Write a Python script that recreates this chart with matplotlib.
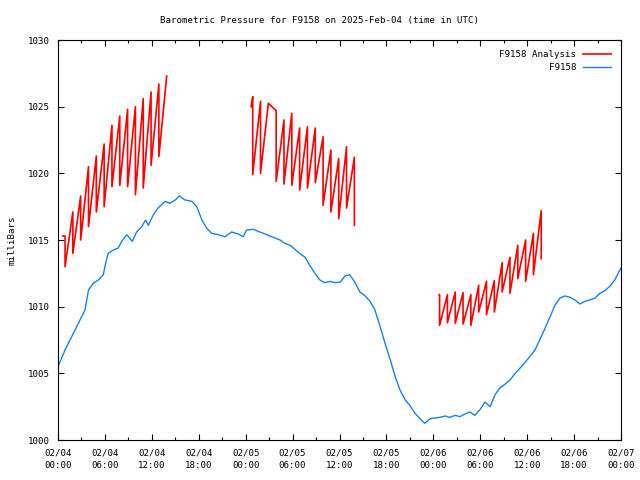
import numpy as np
import matplotlib
matplotlib.use("Agg")
import matplotlib.pyplot as plt

# time axis: hours since 2025-02-04 00:00 UTC
tick_hours = [0, 6, 12, 18, 24, 30, 36, 42, 48, 54, 60, 66, 72]
tick_labels = ["02/04\n00:00", "02/04\n06:00", "02/04\n12:00", "02/04\n18:00",
               "02/05\n00:00", "02/05\n06:00", "02/05\n12:00", "02/05\n18:00",
               "02/06\n00:00", "02/06\n06:00", "02/06\n12:00", "02/06\n18:00",
               "02/07\n00:00"]

# observed pressure (F9158)
obs_hours = [0.0, 0.9, 1.75, 2.6, 3.45, 3.9, 4.5, 5.15, 5.8, 6.0, 6.4, 7.1, 7.7, 8.15,
             8.8, 9.5, 10.05, 10.7, 11.2, 11.55, 12.2, 12.8, 13.7, 14.3, 15.0, 15.5,
             16.25, 17.1, 17.75, 18.4, 19.0, 19.65, 20.5, 21.35, 22.2, 23.05, 23.7,
             24.1, 25.0, 25.8, 26.5, 27.1, 27.75, 28.4, 29.0, 29.7, 30.3, 30.9, 31.6,
             32.2, 32.9, 33.5, 34.1, 34.8, 35.4, 36.1, 36.7, 37.3, 38.0, 38.6, 39.3,
             39.9, 40.5, 41.2, 41.8, 42.5, 43.1, 43.7, 44.4, 45.0, 45.65, 46.3, 46.9,
             47.6, 48.2, 48.85, 49.5, 50.1, 50.8, 51.4, 52.05, 52.7, 53.3, 54.0, 54.6,
             55.25, 55.9, 56.5, 57.2, 57.8, 58.4, 59.1, 59.7, 60.4, 61.0, 61.6, 62.3,
             62.9, 63.55, 64.2, 64.8, 65.5, 66.1, 66.75, 67.4, 68.0, 68.7, 69.3, 69.95,
             70.6, 71.2, 71.9, 72.0]
obs_mb = [1005.5, 1006.75, 1007.75, 1008.75, 1009.75, 1011.25, 1011.75, 1012.0, 1012.4,
          1013.0, 1014.0, 1014.25, 1014.4, 1014.9, 1015.4, 1014.9, 1015.6, 1016.0, 1016.5,
          1016.1, 1016.9, 1017.4, 1017.9, 1017.75, 1018.0, 1018.3, 1018.0, 1017.9, 1017.5,
          1016.5, 1015.9, 1015.5, 1015.4, 1015.25, 1015.6, 1015.45, 1015.25, 1015.75,
          1015.8, 1015.6, 1015.45, 1015.3, 1015.15, 1015.0, 1014.75, 1014.6, 1014.3,
          1014.0, 1013.7, 1013.1, 1012.45, 1012.0, 1011.8, 1011.9, 1011.8, 1011.85,
          1012.3, 1012.4, 1011.8, 1011.1, 1010.8, 1010.4, 1009.8, 1008.5, 1007.3, 1006.0,
          1004.8, 1003.8, 1003.0, 1002.6, 1002.0, 1001.6, 1001.25, 1001.6, 1001.65,
          1001.7, 1001.8, 1001.7, 1001.85, 1001.75, 1001.95, 1002.1, 1001.85, 1002.3,
          1002.85, 1002.5, 1003.4, 1003.9, 1004.2, 1004.5, 1004.95, 1005.4, 1005.8,
          1006.3, 1006.75, 1007.5, 1008.4, 1009.2, 1010.1, 1010.65, 1010.8, 1010.7,
          1010.5, 1010.2, 1010.4, 1010.5, 1010.65, 1011.0, 1011.2, 1011.55, 1012.0,
          1012.8, 1012.9]

# analysis runs: value just before and just after each hourly jump
ana1_start = (0.6, 1015.3)
ana1_jump_hours = [0.9, 1.9, 2.9, 3.9, 4.9, 5.9, 6.9, 7.9, 8.9, 9.9, 10.9, 11.9, 12.9]
ana1_high = [1015.3, 1017.1, 1018.3, 1020.5, 1021.3, 1022.2, 1023.6, 1024.3, 1024.8,
             1025.0, 1025.6, 1026.1, 1026.7]
ana1_low = [1013.0, 1014.0, 1015.0, 1016.0, 1017.1, 1017.5, 1019.0, 1019.1, 1019.0,
            1018.4, 1018.9, 1020.6, 1021.25]
ana1_end = (13.9, 1027.3)

ana2_start = (24.7, 1025.0)
ana2_jump_hours = [24.9, 25.9, 26.9, 27.9, 28.9, 29.9, 30.9, 31.9, 32.9, 33.9, 34.9,
                   35.9, 36.9, 37.9]
ana2_high = [1025.75, 1025.4, 1025.25, 1024.7, 1024.0, 1024.5, 1023.4, 1023.5, 1023.4,
             1022.75, 1021.75, 1021.1, 1022.0, 1021.2]
ana2_low = [1019.9, 1020.0, 1025.25, 1019.4, 1019.2, 1019.1, 1018.75, 1018.9, 1019.3,
            1017.6, 1017.1, 1016.6, 1017.4, 1016.1]

ana3_start = (48.75, 1010.9)
ana3_jump_hours = [48.8, 49.8, 50.8, 51.8, 52.8, 53.8, 54.8, 55.8, 56.8, 57.8, 58.8,
                   59.8, 60.8, 61.8]
ana3_high = [1010.9, 1010.9, 1011.1, 1011.05, 1010.9, 1011.6, 1011.9, 1011.95, 1013.3,
             1013.7, 1014.6, 1015.0, 1015.5, 1017.2]
ana3_low = [1008.6, 1008.8, 1008.75, 1008.7, 1008.6, 1009.6, 1009.4, 1009.6, 1011.1,
            1011.0, 1012.1, 1011.9, 1012.4, 1013.6]


def sawtooth(start, jumps, highs, lows, end=None):
    t = [start[0]]
    v = [start[1]]
    for h, hi, lo in zip(jumps, highs, lows):
        t += [h, h]
        v += [hi, lo]
    if end is not None:
        t.append(end[0])
        v.append(end[1])
    return t, v


plt.rcParams['font.family'] = ['DejaVu Sans Mono']
fs = 6.6

fig = plt.figure(figsize=(6.4, 4.8), dpi=100)
ax = fig.add_axes([58 / 640, 40 / 480, 563 / 640, 400 / 480])

red = '#ff0000'
blue = '#1a80e8'
segs = [sawtooth(ana1_start, ana1_jump_hours, ana1_high, ana1_low, ana1_end),
        sawtooth(ana2_start, ana2_jump_hours, ana2_high, ana2_low),
        sawtooth(ana3_start, ana3_jump_hours, ana3_high, ana3_low)]
for i, (t, v) in enumerate(segs):
    ax.plot(t, v, color=red, lw=1.2, label='F9158 Analysis' if i == 0 else None)
ax.plot(obs_hours, obs_mb, color=blue, lw=1.0, label='F9158')

ax.set_xlim(0, 72)
ax.set_ylim(1000, 1030)
ax.set_xticks(tick_hours)
ax.set_xticklabels(tick_labels, fontsize=fs, linespacing=1.5)
ax.set_xticks(np.arange(3, 72, 6), minor=True)
ax.set_yticks(np.arange(1000, 1031, 5))
ax.tick_params(axis='y', labelsize=fs)
ax.tick_params(which='both', direction='in', top=True, right=True, width=0.8)
ax.tick_params(which='major', length=4, pad=6)
ax.tick_params(which='minor', length=2.5)
for s in ax.spines.values():
    s.set_linewidth(0.8)

ax.set_ylabel('milliBars', fontsize=fs, labelpad=8)
# gnuplot centres the title on the whole image, not the plot box
fig.text(0.5, 1 - 20 / 480, 'Barometric Pressure for F9158 on 2025-Feb-04 (time in UTC)',
         fontsize=fs, ha='center', va='center')

ax.legend(loc='upper right', frameon=False, markerfirst=False, fontsize=fs,
          handlelength=3.0, handletextpad=0.8, borderaxespad=0.9, labelspacing=0.45,
          borderpad=0.2)

fig.savefig('out.png', dpi=100)
